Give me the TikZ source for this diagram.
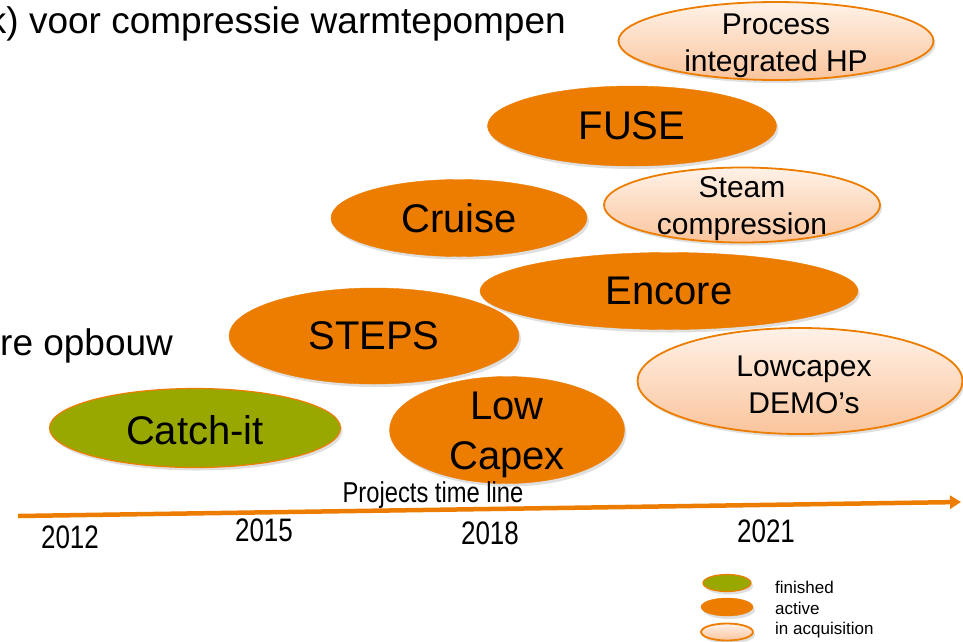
\documentclass[tikz,border=0pt]{standalone}
\usepackage{fontspec}
\setmainfont{Liberation Sans}
\usetikzlibrary{shapes.geometric,shadows,arrows.meta}
\definecolor{actor}{RGB}{236,125,0}
\definecolor{olivegreen}{RGB}{153,168,0}
\definecolor{acqtop}{RGB}{255,242,232}
\definecolor{acqbot}{RGB}{250,196,156}
\begin{document}
\begin{tikzpicture}[x=1pt,y=-1pt,
  ell/.style={ellipse, inner sep=0pt, drop shadow={opacity=0.25, shadow xshift=2pt, shadow yshift=-3pt}},
  activeell/.style={ell, fill=actor, draw=actor},
  finishedell/.style={ell, fill=olivegreen, draw=actor, line width=1.2pt},
  acqell/.style={ell, top color=acqtop, bottom color=acqbot, draw=actor, line width=1.8pt},
  biglbl/.style={font=\fontsize{40}{50}\selectfont, align=center, inner sep=0pt},
  smalllbl/.style={font=\fontsize{30}{37}\selectfont, align=center, inner sep=0pt},
  yearlbl/.style={font=\fontsize{26}{30}\selectfont, inner sep=0pt},
  legendlbl/.style={font=\fontsize{17}{20}\selectfont, anchor=west, inner sep=0pt},
  headtxt/.style={font=\fontsize{37}{44}\selectfont, inner sep=0pt}]
\path[use as bounding box, clip] (0,0) rectangle (963,641);
\fill[white] (0,0) rectangle (963,641);

% header texts
\node[headtxt, anchor=base east] (title) at (566,33) {k) voor compressie warmtepompen};
\node[headtxt, anchor=base west] (opbouw) at (0,355) {re opbouw};

% project ellipses
\node[acqell, minimum width=315, minimum height=78] (pihp) at (776,41) {};
\node[smalllbl] (pihpt) at (776,46) {Process\\integrated HP};

\node[activeell, minimum width=289, minimum height=80] (fuse) at (632,126) {};
\node[biglbl] (fuset) at (fuse) {FUSE};

\node[acqell, minimum width=276, minimum height=75] (steam) at (742,205) {};
\node[smalllbl] (steamt) at (742,209) {Steam\\compression};

\node[activeell, minimum width=256, minimum height=77] (cruise) at (459,218) {};
\node[biglbl] (cruiset) at (cruise) {Cruise};

\node[activeell, minimum width=378, minimum height=77] (encore) at (669,291) {};
\node[biglbl] (encoret) at (encore) {Encore};

\node[activeell, minimum width=290, minimum height=96] (steps) at (374,336) {};
\node[biglbl] (stepst) at (steps) {STEPS};

\node[acqell, minimum width=325, minimum height=106] (lcdemo) at (800,381) {};
\node[smalllbl] (lcdemot) at (804,385) {Lowcapex\\DEMO's};

\node[finishedell, minimum width=291, minimum height=79] (catch) at (195,428) {};
\node[biglbl] (catcht) at (195,430) {Catch-it};

\node[activeell, minimum width=235, minimum height=107] (lowcapex) at (507,430) {};
\node[biglbl] (lowcapext) at (507,435) {Low\\Capex};

% time line
\coordinate (tlstart) at (18,516);
\coordinate (tlend) at (961,502);
\draw[actor, line width=4.5pt, -{Triangle[length=11pt,width=13pt]}] (tlstart) -- (tlend);
\node[font=\fontsize{25}{30}\selectfont, inner sep=0pt] (tltxt) at (433,495) {\scalebox{0.95}[1.15]{Projects time line}};

\node[yearlbl] (y2012) at (70,537) {\scalebox{1}[1.25]{2012}};
\node[yearlbl] (y2015) at (264,530) {\scalebox{1}[1.25]{2015}};
\node[yearlbl] (y2018) at (490,533) {\scalebox{1}[1.25]{2018}};
\node[yearlbl] (y2021) at (766,531) {\scalebox{1}[1.25]{2021}};

% legend
\node[finishedell, minimum width=48, minimum height=17] (lgfin) at (727,583) {};
\node[activeell, minimum width=52, minimum height=18] (lgact) at (727,607) {};
\node[acqell, minimum width=52, minimum height=17] (lgacq) at (727,632) {};
\node[legendlbl] (lgfint) at (775,587) {finished};
\node[legendlbl] (lgactt) at (775,608) {active};
\node[legendlbl] (lgacqt) at (775,630) {in acquisition};
\end{tikzpicture}
\end{document}
